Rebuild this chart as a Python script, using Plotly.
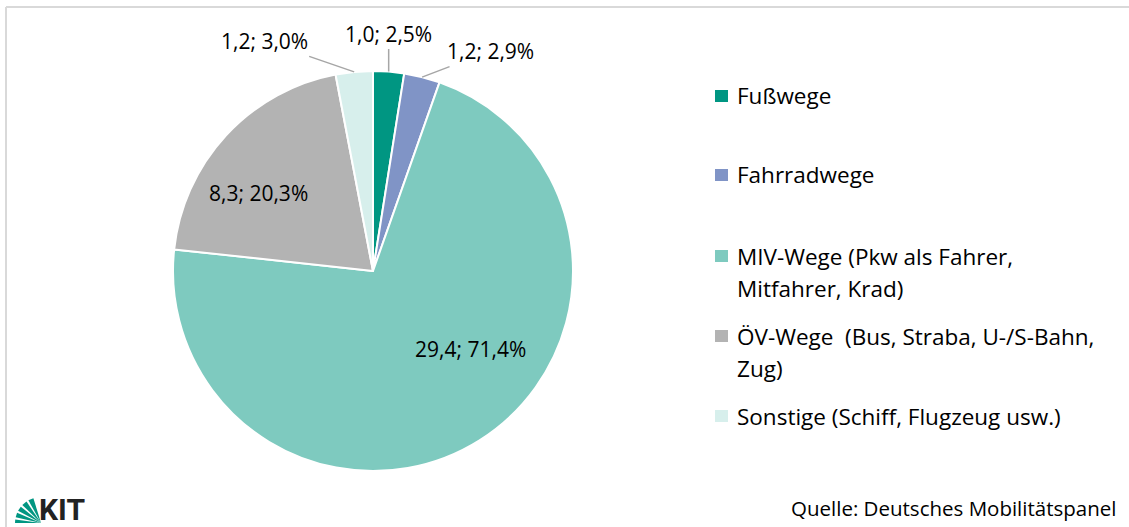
import math
import plotly.graph_objects as go

# ---------------- data ----------------
categories = [
    "Fußwege",
    "Fahrradwege",
    "MIV-Wege (Pkw als Fahrer, Mitfahrer, Krad)",
    "ÖV-Wege  (Bus, Straba, U-/S-Bahn, Zug)",
    "Sonstige (Schiff, Flugzeug usw.)",
]
legend_lines = [
    ["Fußwege"],
    ["Fahrradwege"],
    ["MIV-Wege (Pkw als Fahrer,", "Mitfahrer, Krad)"],
    ["ÖV-Wege\u00a0 (Bus, Straba, U-/S-Bahn,", "Zug)"],
    ["Sonstige (Schiff, Flugzeug usw.)"],
]
mio_wege = [1.0, 1.2, 29.4, 8.3, 1.2]
anteil_pct = [2.5, 2.9, 71.4, 20.3, 3.0]
source_text = "Quelle: Deutsches Mobilitätspanel"

# ---------------- style ----------------
colors = ["#009682", "#8094c6", "#7ecabf", "#b3b3b3", "#d7efec"]
W, H = 1129, 527
FONT = "Open Sans"
cx, cy, r = 373, 271, 200           # pie centre / radius in pixels
# label placement: (outside?, dx, dy) pixel offsets
label_style = [
    (True, 0, -38),
    (True, 68, -26),
    (False, 97, 78),
    (False, -115, -78),
    (True, -90, -31),
]
legend_y = [96, 175, 256, 336, 416]
legend_line_gap = 32


def px(x):
    return x / W


def py(y):
    return 1 - y / H


def fmt(v, d=1):
    return f"{v:.{d}f}".replace(".", ",")


fig = go.Figure()
fig.add_trace(go.Pie(
    labels=categories,
    values=anteil_pct,
    sort=False,
    direction="clockwise",
    rotation=0,
    marker=dict(colors=colors, line=dict(color="white", width=2)),
    textinfo="none",
    hoverinfo="label+percent",
    showlegend=False,
    domain=dict(x=[px(cx - r), px(cx + r)], y=[py(cy + r), py(cy - r)]),
))

annotations = []
shapes = []
total = sum(anteil_pct)
cum = 0.0
for i, (m, p) in enumerate(zip(mio_wege, anteil_pct)):
    mid = (cum + p / 2) / total * 2 * math.pi
    cum += p
    outside, dx, dy = label_style[i]
    text = f"{fmt(m)}; {fmt(p)}%"
    if outside:
        tx = cx + r * math.sin(mid)
        ty = cy - r * math.cos(mid)
        annotations.append(dict(
            x=px(tx), y=py(ty), xref="paper", yref="paper",
            text=text, showarrow=True, arrowhead=0, arrowwidth=1.5,
            arrowcolor="#a6a6a6", ax=dx, ay=dy, standoff=0,
            font=dict(family=FONT, size=21, color="#000000"),
        ))
    else:
        annotations.append(dict(
            x=px(cx + dx), y=py(cy + dy), xref="paper", yref="paper",
            xanchor="center", yanchor="middle",
            text=text, showarrow=False,
            font=dict(family=FONT, size=21, color="#000000"),
        ))

# manual legend
for i, lines in enumerate(legend_lines):
    y0 = legend_y[i]
    shapes.append(dict(type="rect", xref="paper", yref="paper",
                       x0=px(715), x1=px(728), y0=py(y0 - 6), y1=py(y0 + 6),
                       fillcolor=colors[i], line=dict(width=0)))
    for k, line in enumerate(lines):
        annotations.append(dict(
            x=px(735), y=py(y0 + k * legend_line_gap), xref="paper", yref="paper",
            xanchor="left", yanchor="middle", text=line, showarrow=False,
            font=dict(family=FONT, size=22.5, color="#000000"),
        ))

# source
annotations.append(dict(
    x=px(1118), y=py(508), xref="paper", yref="paper",
    xanchor="right", yanchor="middle", text=source_text, showarrow=False,
    font=dict(family=FONT, size=20.5, color="#000000"),
))

# KIT logo (approximation): green fan + letters
apex = (41, 523)
for a0, a1 in [(180, 172), (167, 157), (152, 141), (136, 124), (119, 107)]:
    pts = [apex]
    for a in (a0, a1):
        ar = math.radians(a)
        pts.append((apex[0] + 26 * math.cos(ar), apex[1] - 26 * math.sin(ar)))
    path = "M " + " L ".join(f"{px(x):.5f},{py(y):.5f}" for x, y in pts) + " Z"
    shapes.append(dict(type="path", xref="paper", yref="paper", path=path,
                       fillcolor="#009682", line=dict(width=0)))
annotations.append(dict(
    x=px(37), y=py(509), xref="paper", yref="paper", xanchor="left",
    yanchor="middle", text="<b>KIT</b>", showarrow=False,
    font=dict(family="Roboto", size=30, color="#222222"),
))

# frame
shapes.append(dict(type="line", xref="paper", yref="paper",
                   x0=px(6), x1=1, y0=py(7), y1=py(7),
                   line=dict(color="#d9d9d9", width=2)))
shapes.append(dict(type="line", xref="paper", yref="paper",
                   x0=px(6), x1=px(6), y0=py(7), y1=0,
                   line=dict(color="#d9d9d9", width=2)))

fig.update_layout(
    width=W, height=H,
    margin=dict(l=0, r=0, t=0, b=0),
    paper_bgcolor="white", plot_bgcolor="white",
    annotations=annotations, shapes=shapes,
    showlegend=False,
)
fig.write_html(
    "out.html",
    config={"displayModeBar": False},
    post_script="document.body.style.margin='0px';document.body.style.overflow='hidden';",
)
